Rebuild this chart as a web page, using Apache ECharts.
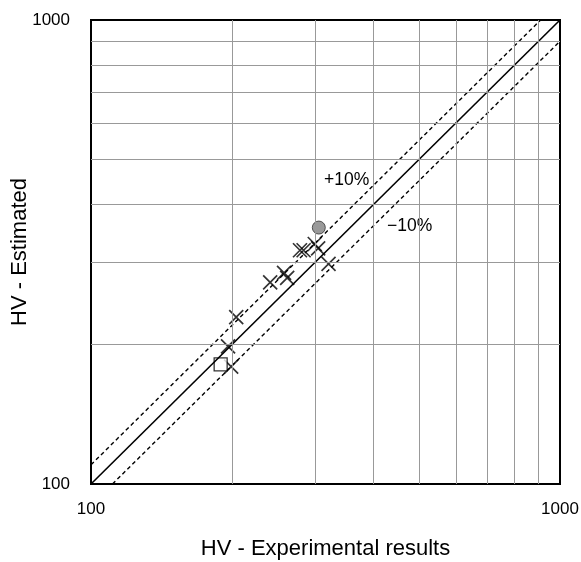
<!DOCTYPE html>
<html>
<head>
<meta charset="utf-8">
<script src="https://cdn.jsdelivr.net/npm/echarts@6/dist/echarts.min.js"></script>
<style>
  html, body { margin: 0; padding: 0; background: #fff; }
  #main { width: 581px; height: 562px; }
</style>
</head>
<body>
<div id="main"></div>
<script>
// experimental (x) vs estimated (y) HV values
var crossX = [279, 284, 300, 305, 321, 258, 262, 241, 204, 196, 199]
var crossY = [319, 319, 329, 322, 298, 285, 278, 272, 229, 198, 179]
var circlePt = [[306, 357]]
var squarePt = [[189, 181]]
var axisMin = 100
var axisMax = 1000
var gridVals = [200, 300, 400, 500, 600, 700, 800, 900]

var chart = echarts.init(document.getElementById('main'))

var crosses = crossX.map(function (x, i) { return [x, crossY[i]] })
var gridLines = []
gridVals.forEach(function (v) {
  gridLines.push({ xAxis: v })
  gridLines.push({ yAxis: v })
})

var font = 'Liberation Sans, Arial, sans-serif'
var plain = function (v) { return String(Math.round(v)) }

var option = {
  animation: false,
  grid: {
    left: 91, top: 20, right: 21, bottom: 78,
    outerBoundsMode: 'none', containLabel: false,
    show: true, borderColor: '#000', borderWidth: 2, backgroundColor: '#fff'
  },
  xAxis: {
    type: 'log', logBase: 10, min: axisMin, max: axisMax,
    name: 'HV - Experimental results', nameLocation: 'middle', nameGap: 54,
    nameMoveOverlap: false,
    nameTextStyle: { fontSize: 22, color: '#000', fontFamily: font },
    axisLine: { show: false },
    axisTick: { show: false },
    splitLine: { show: false },
    axisLabel: { fontSize: 17, color: '#000', fontFamily: font, margin: 17, formatter: plain }
  },
  yAxis: {
    type: 'log', logBase: 10, min: axisMin, max: axisMax,
    name: 'HV - Estimated', nameLocation: 'middle', nameGap: 60,
    nameMoveOverlap: false,
    nameTextStyle: { fontSize: 22, color: '#000', fontFamily: font },
    axisLine: { show: false },
    axisTick: { show: false },
    splitLine: { show: false },
    axisLabel: { fontSize: 17, color: '#000', fontFamily: font, margin: 21, formatter: plain }
  },
  series: [
    {
      // grid lines at 2..9 x 100
      type: 'line', data: [], silent: true,
      markLine: {
        silent: true, symbol: 'none', animation: false,
        label: { show: false },
        lineStyle: { color: '#999', width: 1, type: 'solid' },
        data: gridLines
      }
    },
    {
      type: 'line', showSymbol: false, silent: true,
      lineStyle: { color: '#000', width: 1.6 },
      data: [[axisMin, axisMin], [axisMax, axisMax]]
    },
    {
      type: 'line', showSymbol: false, silent: true,
      lineStyle: { color: '#000', width: 1.4, type: [4, 3] },
      data: [[axisMin, axisMin * 1.1], [axisMax / 1.1, axisMax]]
    },
    {
      type: 'line', showSymbol: false, silent: true,
      lineStyle: { color: '#000', width: 1.4, type: [4, 3] },
      data: [[axisMin / 0.9, axisMin], [axisMax, axisMax * 0.9]]
    },
    {
      type: 'scatter', symbol: 'path://M0,0L10,10M10,0L0,10', symbolSize: 14,
      itemStyle: { color: 'none', borderColor: '#000', borderWidth: 1.7 },
      data: crosses
    },
    {
      type: 'scatter', symbol: 'circle', symbolSize: 13,
      itemStyle: { color: '#7f7f7f', borderColor: '#333', borderWidth: 1 },
      data: circlePt
    },
    {
      type: 'scatter', symbol: 'rect', symbolSize: 13,
      itemStyle: { color: '#fff', borderColor: '#000', borderWidth: 1.3 },
      data: squarePt
    }
  ],
  graphic: [
    { type: 'text', left: 324, top: 171, style: { text: '+10%', fontSize: 17.5, fill: '#000', fontFamily: font } },
    { type: 'text', left: 387, top: 217, style: { text: '\u221210%', fontSize: 17.5, fill: '#000', fontFamily: font } }
  ]
}

chart.setOption(option)
</script>
</body>
</html>
